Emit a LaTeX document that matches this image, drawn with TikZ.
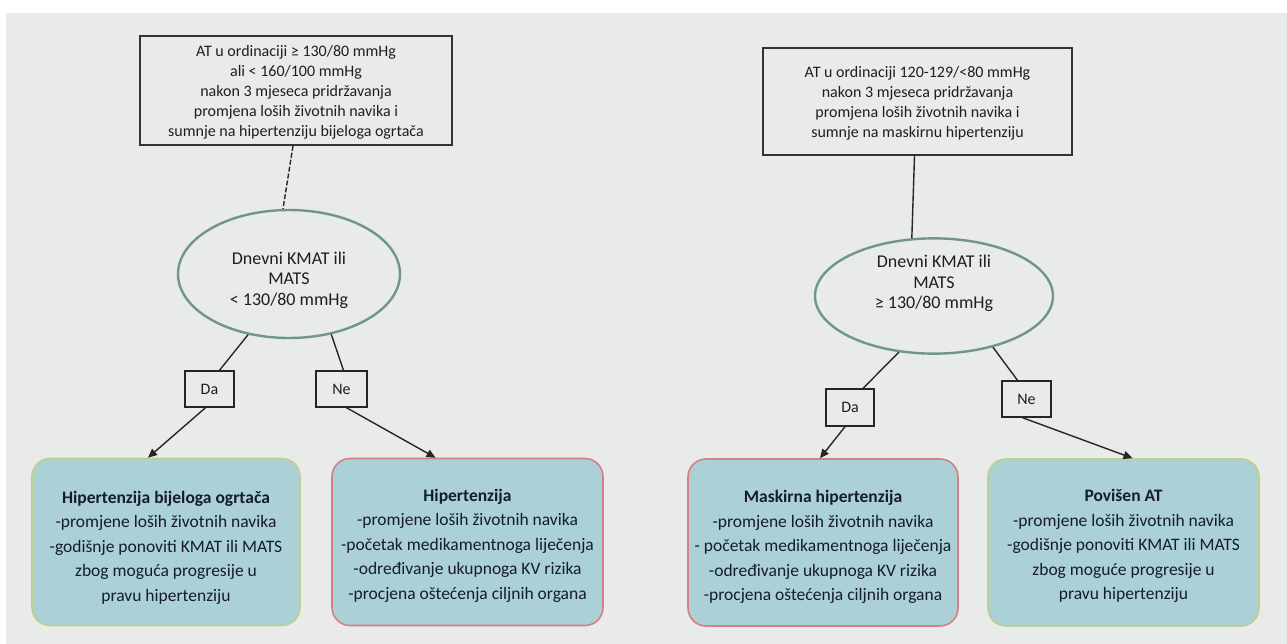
\documentclass[tikz,border=0pt]{standalone}
\usepackage{fontspec}
\setmainfont{Carlito}
\usetikzlibrary{arrows.meta,shapes.geometric}
\definecolor{bg}{RGB}{233,234,234}
\definecolor{tealfill}{RGB}{171,208,213}
\definecolor{greenb}{RGB}{188,210,140}
\definecolor{redb}{RGB}{214,128,134}
\definecolor{ellb}{RGB}{112,150,140}
\definecolor{txt}{RGB}{30,30,30}
\definecolor{txtb}{RGB}{22,28,42}
\newcommand\mytopstrut[1]{\rule{0pt}{#1}}
\newcommand\mybotstrut[1]{\rule[-#1]{0pt}{0pt}}
\tikzset{
  topbox/.style={draw=black!80, line width=1.8pt, fill=bg, inner sep=0pt, align=center,
    text=txt, font=\fontsize{16}{20}\selectfont},
  decell/.style={ellipse, draw=ellb, line width=2.4pt, fill=bg, inner sep=0pt, align=center,
    text=txt, font=\fontsize{18}{20.5}\selectfont},
  ansbox/.style={draw=black!85, line width=1.4pt, fill=bg, inner sep=0pt,
    text=txt, font=\fontsize{16}{16}\selectfont},
  resbox/.style={rounded corners=18pt, fill=tealfill, line width=1.6pt, inner sep=0pt,
    align=center, text=txtb, font=\fontsize{17.5}{24.5}\selectfont,
    minimum height=167pt},
  okbox/.style={resbox, draw=greenb},
  badbox/.style={resbox, draw=redb},
  conn/.style={draw=black!85, line width=1.4pt},
  arr/.style={conn, -{Triangle[length=9pt,width=8pt]}},
}
\begin{document}
\begin{tikzpicture}[x=1pt,y=-1pt]
\useasboundingbox (0,0) rectangle (1287,644);
\fill[bg] (6,13) rectangle (1287,644);

% left branch
\node[topbox, minimum width=312pt, minimum height=109pt] (topL) at (296,90.5)
  {\mytopstrut{15pt}AT u ordinaciji ≥ 130/80 mmHg\\ali < 160/100 mmHg\\nakon 3 mjeseca pridržavanja\\promjena loših životnih navika i\\sumnje na hipertenziju bijeloga ogrtača};
\node[decell, minimum width=222pt, minimum height=128pt] (ellL) at (289,274)
  {\mytopstrut{25pt}Dnevni KMAT ili\\MATS\\< 130/80 mmHg};
\node[ansbox, minimum width=49pt, minimum height=36pt] (daL) at (209.5,389) {Da};
\node[ansbox, minimum width=51pt, minimum height=36pt] (neL) at (341.5,389) {Ne};
\node[okbox, minimum width=268pt] (resL1) at (166,542)
  {\mytopstrut{23pt}\textbf{Hipertenzija bijeloga ogrtača}\\-promjene loših životnih navika\\-godišnje ponoviti KMAT ili MATS\\zbog moguća progresije u\\pravu hipertenziju};
\node[badbox, minimum width=271pt] (resL2) at (467.5,542)
  {\mytopstrut{19pt}\textbf{Hipertenzija}\\-promjene loših životnih navika\\-početak medikamentnoga liječenja\\-određivanje ukupnoga KV rizika\\-procjena oštećenja ciljnih organa};

\draw[conn, dashed, dash pattern=on 5pt off 2pt] ([xshift=-3pt]topL.south) -- ([xshift=-6pt]ellL.north);
\draw[conn] (ellL.236) -- ([xshift=10pt]daL.north);
\draw[conn] (ellL.305) -- ([xshift=2pt]neL.north);
\draw[arr] ([xshift=-4pt]daL.south) -- ([xshift=-18pt]resL1.north);
\draw[arr] ([xshift=5pt]neL.south) -- ([xshift=-32pt]resL2.north);

% right branch
\node[topbox, minimum width=309pt, minimum height=107pt] (topR) at (917.5,101.5)
  {\mytopstrut{15pt}AT u ordinaciji 120-129/<80 mmHg\\nakon 3 mjeseca pridržavanja\\promjena loših životnih navika i\\sumnje na maskirnu hipertenziju};
\node[decell, minimum width=238pt, minimum height=105pt] (ellR) at (934,296)
  {Dnevni KMAT ili\\MATS\\≥ 130/80 mmHg\mybotstrut{28pt}};
\node[ansbox, minimum width=48pt, minimum height=37pt] (daR) at (850,407.5) {Da};
\node[ansbox, minimum width=49pt, minimum height=36pt] (neR) at (1026.5,399) {Ne};
\node[badbox, minimum width=270pt] (resR1) at (823,542.5)
  {\mytopstrut{21pt}\textbf{Maskirna hipertenzija}\\-promjene loših životnih navika\\- početak medikamentnoga liječenja\\-određivanje ukupnoga KV rizika\\-procjena oštećenja ciljnih organa};
\node[okbox, minimum width=271pt] (resR2) at (1123.5,542.5)
  {\mytopstrut{19pt}\textbf{Povišen AT}\\-promjene loših životnih navika\\-godišnje ponoviti KMAT ili MATS\\zbog moguće progresije u\\pravu hipertenziju};

\draw[conn] ([xshift=-3pt]topR.south) -- (ellR.111);
\draw[conn] (ellR.238) -- ([xshift=13pt]daR.north);
\draw[conn] (ellR.319) -- ([xshift=-9pt]neR.north);
\draw[arr] ([xshift=-5pt]daR.south) -- ([xshift=-3pt]resR1.north);
\draw[arr] ([xshift=-4pt]neR.south) -- ([xshift=9pt]resR2.north);
\end{tikzpicture}
\end{document}
